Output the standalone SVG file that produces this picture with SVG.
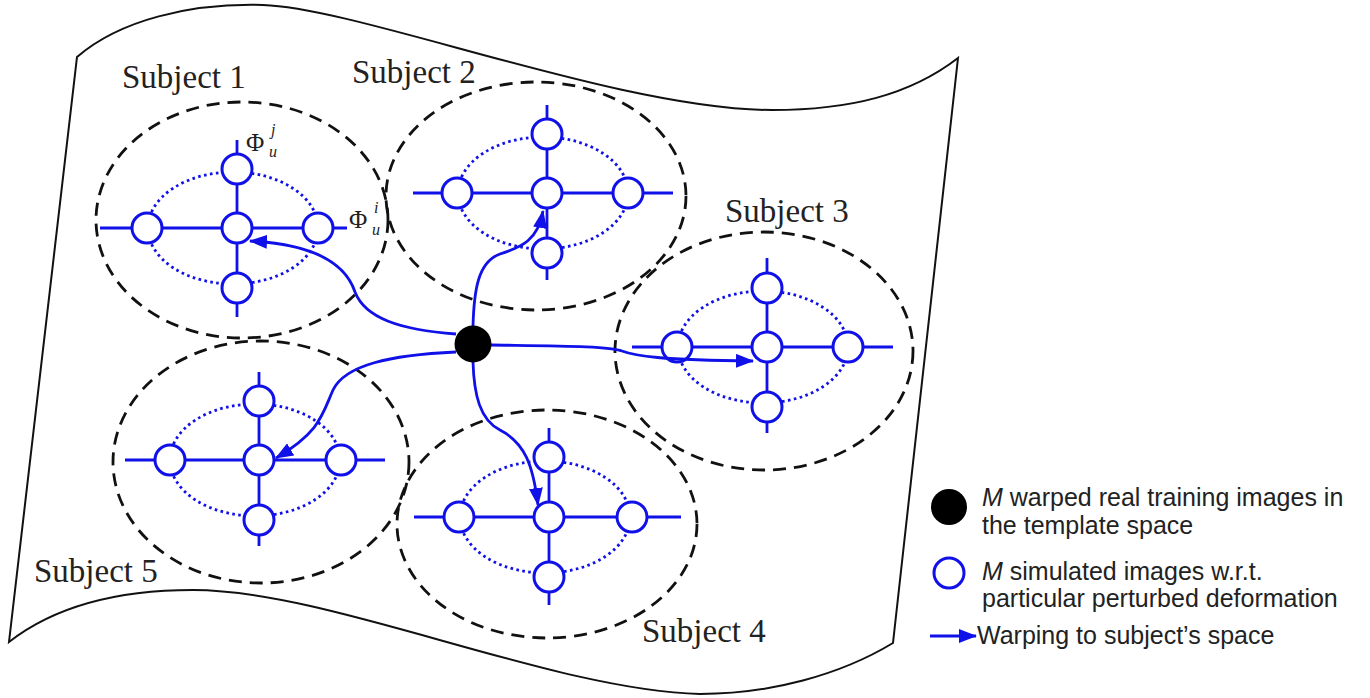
<svg xmlns="http://www.w3.org/2000/svg" width="1370" height="698" viewBox="0 0 1370 698">
  <style>
    .page { fill: #ffffff; stroke: #111111; stroke-width: 2; }
    .group { fill: none; stroke: #111111; stroke-width: 2.8; stroke-dasharray: 13 8; }
    .orbit { fill: none; stroke: #1010e8; stroke-width: 2.8; stroke-dasharray: 2.6 3.4; }
    .axis { fill: none; stroke: #1010e8; stroke-width: 2.8; }
    .img { fill: #ffffff; stroke: #1010e8; stroke-width: 3; }
    .warp { fill: none; stroke: #1010e8; stroke-width: 2.8; }
    .label { font-family: "Liberation Serif", "Times New Roman", serif; font-size: 33px; fill: #222222; }
    .phi { font-family: "Liberation Serif", "Times New Roman", serif; font-size: 25px; fill: #222222; }
    .idx { font-family: "Liberation Serif", "Times New Roman", serif; font-size: 16px; font-style: italic; fill: #222222; }
    .legend { font-family: "Liberation Sans", Arial, sans-serif; font-size: 25px; fill: #222222; }
  </style>
  <defs>
    <marker id="head" viewBox="0 0 18 14" refX="17" refY="7" markerWidth="18" markerHeight="14" markerUnits="userSpaceOnUse" orient="auto">
      <path d="M0,0 L18,7 L0,14 Z" fill="#1010e8"/>
    </marker>
  </defs>

  <!-- curved sheet representing the template space -->
  <path class="page" d="M 77,57 C 120,20 190,3 263,5 C 360,8 620,110 772,110 C 850,110 910,95 958,58 L 893,643 C 840,675 770,694 700,694 C 550,690 330,590 193,590 C 110,590 50,610 9,642 Z"/>

  <!-- subject regions (dashed) -->
  <g id="regions">
    <ellipse class="group" cx="242" cy="220" rx="146" ry="118"/>
    <ellipse class="group" cx="536" cy="196" rx="150" ry="114"/>
    <ellipse class="group" cx="764" cy="351" rx="149" ry="119"/>
    <ellipse class="group" cx="547" cy="524" rx="150" ry="114"/>
    <ellipse class="group" cx="261" cy="462" rx="148" ry="121"/>
  </g>

  <g id="subject1" transform="translate(237,228)">
    <ellipse class="orbit" cx="-4" cy="0" rx="85" ry="56"/>
    <line class="axis" x1="-137" y1="0" x2="110" y2="0"/>
    <line class="axis" x1="0" y1="-88" x2="0" y2="89"/>
    <circle class="img" cx="-90" cy="0" r="15"/>
    <circle class="img" cx="81" cy="0" r="15"/>
    <circle class="img" cx="0" cy="-59" r="15"/>
    <circle class="img" cx="0" cy="60" r="15"/>
    <circle class="img" cx="0" cy="0" r="15"/>
  </g>
  <g id="subject2" transform="translate(547,193)">
    <ellipse class="orbit" cx="-4" cy="0" rx="85" ry="56"/>
    <line class="axis" x1="-134" y1="0" x2="126" y2="0"/>
    <line class="axis" x1="0" y1="-88" x2="0" y2="87"/>
    <circle class="img" cx="-90" cy="0" r="15"/>
    <circle class="img" cx="81" cy="0" r="15"/>
    <circle class="img" cx="0" cy="-59" r="15"/>
    <circle class="img" cx="0" cy="60" r="15"/>
    <circle class="img" cx="0" cy="0" r="15"/>
  </g>
  <g id="subject3" transform="translate(767,347)">
    <ellipse class="orbit" cx="-4" cy="0" rx="85" ry="56"/>
    <line class="axis" x1="-135" y1="0" x2="126" y2="0"/>
    <line class="axis" x1="0" y1="-89" x2="0" y2="86"/>
    <circle class="img" cx="-90" cy="0" r="15"/>
    <circle class="img" cx="81" cy="0" r="15"/>
    <circle class="img" cx="0" cy="-59" r="15"/>
    <circle class="img" cx="0" cy="60" r="15"/>
    <circle class="img" cx="0" cy="0" r="15"/>
  </g>
  <g id="subject4" transform="translate(549,517)">
    <ellipse class="orbit" cx="-4" cy="0" rx="85" ry="56"/>
    <line class="axis" x1="-135" y1="0" x2="132" y2="0"/>
    <line class="axis" x1="0" y1="-89" x2="0" y2="88"/>
    <circle class="img" cx="-90" cy="0" r="15"/>
    <circle class="img" cx="83" cy="0" r="15"/>
    <circle class="img" cx="0" cy="-60" r="15"/>
    <circle class="img" cx="0" cy="60" r="15"/>
    <circle class="img" cx="0" cy="0" r="15"/>
  </g>
  <g id="subject5" transform="translate(259,460)">
    <ellipse class="orbit" cx="-4" cy="0" rx="85" ry="56"/>
    <line class="axis" x1="-134" y1="0" x2="126" y2="0"/>
    <line class="axis" x1="0" y1="-88" x2="0" y2="86"/>
    <circle class="img" cx="-89" cy="0" r="15"/>
    <circle class="img" cx="82" cy="0" r="15"/>
    <circle class="img" cx="0" cy="-59" r="15"/>
    <circle class="img" cx="0" cy="60" r="15"/>
    <circle class="img" cx="0" cy="0" r="15"/>
  </g>

  <!-- warping connectors from the template point -->
  <g id="connectors">
    <path class="warp" marker-end="url(#head)" d="M 456,334 C 400,330 365,318 355,292 C 345,262 310,244 250,241"/>
    <path class="warp" marker-end="url(#head)" d="M 473,326 C 474,290 478,262 500,254 C 522,247 538,240 543,211"/>
    <path class="warp" marker-end="url(#head)" d="M 491,345 C 560,346 610,346 622,351 C 635,356 660,360 753,361"/>
    <path class="warp" marker-end="url(#head)" d="M 473,362 C 474,395 480,420 500,430 C 525,443 533,465 538,505"/>
    <path class="warp" marker-end="url(#head)" d="M 456,352 C 390,355 345,365 333,390 C 322,415 320,432 276,458"/>
  </g>

  <g id="template">
    <circle cx="473" cy="344" r="18.5" fill="#000000"/>
  </g>

  <!-- labels -->
  <g id="labels">
    <text class="label" x="122" y="88">Subject 1</text>
    <text class="label" x="352" y="83">Subject 2</text>
    <text class="label" x="725" y="222">Subject 3</text>
    <text class="label" x="642" y="642">Subject 4</text>
    <text class="label" x="34" y="582">Subject 5</text>
    <text class="phi" x="246" y="151">Φ</text>
    <text class="idx" x="271" y="135">j</text>
    <text class="idx" x="269" y="157">u</text>
    <text class="phi" x="349" y="228">Φ</text>
    <text class="idx" x="374" y="213">i</text>
    <text class="idx" x="372" y="235">u</text>
  </g>

  <!-- legend -->
  <g id="legend">
    <circle cx="949" cy="507" r="18" fill="#000000"/>
    <text class="legend" x="982" y="506"><tspan font-style="italic">M</tspan> warped real training images in</text>
    <text class="legend" x="982" y="534">the template space</text>
    <circle class="img" cx="949" cy="573" r="15"/>
    <text class="legend" x="982" y="580"><tspan font-style="italic">M</tspan> simulated images w.r.t.</text>
    <text class="legend" x="982" y="607">particular perturbed deformation</text>
    <line class="warp" x1="930" y1="636" x2="976" y2="636" marker-end="url(#head)"/>
    <text class="legend" x="977" y="644">Warping to subject’s space</text>
  </g>
</svg>
